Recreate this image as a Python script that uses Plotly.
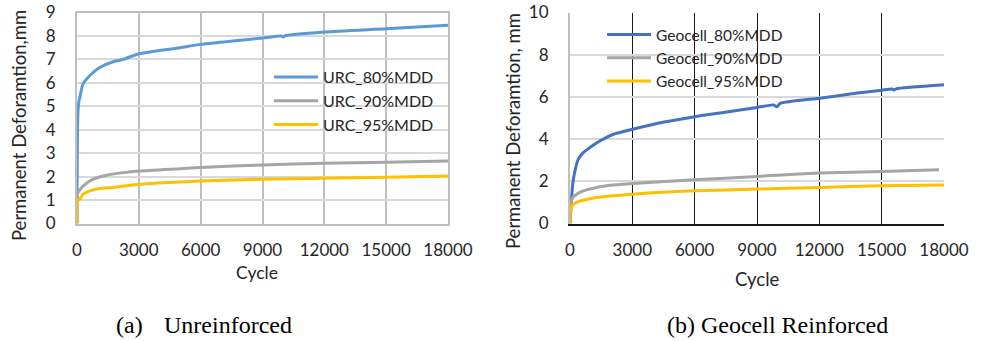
import plotly.graph_objects as go

# ---- Data: (a) Unreinforced ----
urc_cycles_80 = [0, 5, 20, 50, 100, 130, 290, 615, 1100, 1750, 2240, 3000, 5000, 6000, 9000, 9900, 10000, 10100, 12000, 15000, 18000]
urc_80 = [0.0, 1.5, 3.5, 4.8, 5.25, 5.35, 5.95, 6.3, 6.65, 6.9, 7.0, 7.24, 7.5, 7.64, 7.91, 8.0, 7.95, 8.01, 8.17, 8.31, 8.46]

urc_cycles_90 = [0, 5, 20, 100, 450, 780, 1430, 2240, 3000, 5000, 6000, 9000, 12000, 15000, 18000]
urc_90 = [0.0, 1.0, 1.25, 1.4, 1.71, 1.89, 2.06, 2.17, 2.24, 2.34, 2.39, 2.5, 2.57, 2.61, 2.67]

urc_cycles_95 = [0, 5, 20, 130, 290, 615, 1100, 1750, 3000, 5000, 6000, 9000, 12000, 15000, 18000]
urc_95 = [0.0, 0.8, 0.95, 1.03, 1.24, 1.39, 1.49, 1.54, 1.67, 1.77, 1.81, 1.89, 1.93, 1.97, 2.03]

# ---- Data: (b) Geocell Reinforced ----
geo_cycles_80 = [0, 130, 240, 400, 640, 960, 1450, 2090, 3020, 4180, 6000, 7390, 9000, 9800, 9960, 10120, 12020, 13820, 15010, 15500, 15600, 15700, 18000]
geo_80 = [0.0, 1.86, 2.5, 3.05, 3.36, 3.6, 3.92, 4.23, 4.47, 4.74, 5.06, 5.26, 5.5, 5.62, 5.53, 5.69, 5.94, 6.18, 6.32, 6.37, 6.33, 6.38, 6.57]

geo_cycles_90 = [0, 20, 130, 320, 640, 1290, 2090, 3020, 6000, 9000, 9960, 12020, 15000, 17760]
geo_90 = [0.0, 0.9, 1.23, 1.39, 1.55, 1.71, 1.82, 1.9, 2.07, 2.23, 2.29, 2.39, 2.46, 2.55]

geo_cycles_95 = [0, 20, 130, 320, 640, 1290, 2090, 3020, 4180, 6000, 9000, 12020, 15000, 18000]
geo_95 = [0.0, 0.6, 0.88, 1.0, 1.1, 1.23, 1.31, 1.39, 1.47, 1.55, 1.63, 1.71, 1.79, 1.83]

x_ticks = [0, 3000, 6000, 9000, 12000, 15000, 18000]
x_tick_text = ["0", "3000", "6000", "9000", "12000", "15000", "18000"]

W, H = 983, 341
FONT = "Lato"
TXT = "#262626"

fig = go.Figure()

def add(x, y, name, color, xa, ya, legend):
    fig.add_trace(go.Scatter(x=x, y=y, name=name, mode="lines",
                             line=dict(color=color, width=3, shape="spline", smoothing=0.6),
                             xaxis=xa, yaxis=ya, legend=legend))

add(urc_cycles_80, urc_80, "URC_80%MDD", "#5B9BD5", "x", "y", "legend")
add(urc_cycles_90, urc_90, "URC_90%MDD", "#A5A5A5", "x", "y", "legend")
add(urc_cycles_95, urc_95, "URC_95%MDD", "#FFC000", "x", "y", "legend")
add(geo_cycles_80, geo_80, "Geocell_80%MDD", "#4472C4", "x2", "y2", "legend2")
add(geo_cycles_90, geo_90, "Geocell_90%MDD", "#A5A5A5", "x2", "y2", "legend2")
add(geo_cycles_95, geo_95, "Geocell_95%MDD", "#FFC000", "x2", "y2", "legend2")

yb = 1 - 223.5 / H
yt = 1 - 12.5 / H

tickfont = dict(family=FONT, size=17, color=TXT)

def px(x):
    return x / W

def py(y):
    return 1 - y / H

def txt(text, x, y, size, family=FONT, angle=0, xanchor="center", color=TXT):
    return dict(text=text, x=px(x), y=py(y), xref="paper", yref="paper",
                xanchor=xanchor, yanchor="middle", showarrow=False, textangle=angle,
                font=dict(family=family, size=size, color=color))

fig.update_layout(
    width=W, height=H, autosize=False,
    margin=dict(l=0, r=0, t=0, b=0),
    paper_bgcolor="white", plot_bgcolor="white",
    font=dict(family=FONT, color=TXT),
    xaxis=dict(domain=[px(77), px(448)], range=[0, 18000], tickvals=x_ticks, ticktext=x_tick_text,
               showgrid=True, gridcolor="#BFBFBF", gridwidth=2,
               showline=True, linecolor="#BFBFBF", linewidth=2, mirror=True,
               zeroline=False, ticks="", ticklabelstandoff=10, tickfont=tickfont,
               automargin=False, anchor="y"),
    yaxis=dict(domain=[yb, yt], range=[0, 9], dtick=1,
               showgrid=True, gridcolor="#D9D9D9", gridwidth=2,
               showline=True, linecolor="#BFBFBF", linewidth=2, mirror=True,
               zeroline=False, ticks="", ticklabelstandoff=16, tickfont=tickfont,
               automargin=False, anchor="x"),
    xaxis2=dict(domain=[px(570), px(944)], range=[0, 18000], tickvals=x_ticks, ticktext=x_tick_text,
                showgrid=True, gridcolor="#1A1A1A", gridwidth=1.3,
                showline=True, linecolor="#1A1A1A", linewidth=2, mirror=False,
                zeroline=False, ticks="", ticklabelstandoff=10, tickfont=tickfont,
                automargin=False, anchor="y2"),
    yaxis2=dict(domain=[yb, yt], range=[0, 10], dtick=2,
                showgrid=True, gridcolor="#D9D9D9", gridwidth=2,
                showline=True, linecolor="#BFBFBF", linewidth=2, mirror=False,
                zeroline=False, ticks="", ticklabelstandoff=16, tickfont=tickfont,
                automargin=False, anchor="x2"),
    legend=dict(x=px(269), y=py(60), xanchor="left", yanchor="top",
                bgcolor="rgba(0,0,0,0)", font=dict(family=FONT, size=16, color=TXT),
                tracegroupgap=0, itemwidth=44),
    legend2=dict(x=px(602), y=py(18), xanchor="left", yanchor="top",
                 bgcolor="rgba(0,0,0,0)", font=dict(family=FONT, size=15.5, color=TXT),
                 tracegroupgap=0, itemwidth=44),
    annotations=[
        txt("Permanent Deforamtion,mm", 19, 126, 18.5, angle=-90),
        txt("Cycle", 257, 272, 17.5),
        txt("Permanent Deforamtion, mm", 513, 131, 18.5, angle=-90),
        txt("Cycle", 757, 279, 18.5),
        txt("(a)", 114, 325, 24, family="Liberation Serif", xanchor="left", color="#000"),
        txt("Unreinforced", 162, 325, 24, family="Liberation Serif", xanchor="left", color="#000"),
        txt("(b) Geocell Reinforced", 665, 325, 24, family="Liberation Serif", xanchor="left", color="#000"),
    ],
)

fig.write_html("out.html")
